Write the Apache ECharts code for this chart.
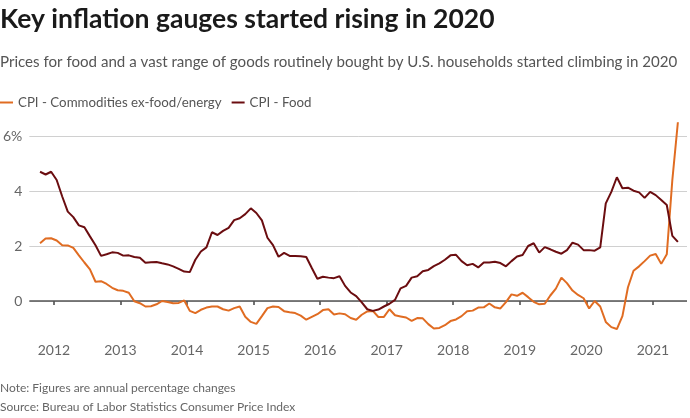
<!DOCTYPE html>
<html>
<head>
<meta charset="utf-8">
<script src="https://cdn.jsdelivr.net/npm/echarts@6/dist/echarts.min.js"></script>
<style>
html,body{margin:0;padding:0;background:#fff;}
#chart{width:690px;height:418px;}
</style>
</head>
<body>
<div id="chart"></div>
<script>
var months = [
  '2011-10','2011-11','2011-12',
  '2012-01','2012-02','2012-03','2012-04','2012-05','2012-06','2012-07','2012-08','2012-09','2012-10','2012-11','2012-12',
  '2013-01','2013-02','2013-03','2013-04','2013-05','2013-06','2013-07','2013-08','2013-09','2013-10','2013-11','2013-12',
  '2014-01','2014-02','2014-03','2014-04','2014-05','2014-06','2014-07','2014-08','2014-09','2014-10','2014-11','2014-12',
  '2015-01','2015-02','2015-03','2015-04','2015-05','2015-06','2015-07','2015-08','2015-09','2015-10','2015-11','2015-12',
  '2016-01','2016-02','2016-03','2016-04','2016-05','2016-06','2016-07','2016-08','2016-09','2016-10','2016-11','2016-12',
  '2017-01','2017-02','2017-03','2017-04','2017-05','2017-06','2017-07','2017-08','2017-09','2017-10','2017-11','2017-12',
  '2018-01','2018-02','2018-03','2018-04','2018-05','2018-06','2018-07','2018-08','2018-09','2018-10','2018-11','2018-12',
  '2019-01','2019-02','2019-03','2019-04','2019-05','2019-06','2019-07','2019-08','2019-09','2019-10','2019-11','2019-12',
  '2020-01','2020-02','2020-03','2020-04','2020-05','2020-06','2020-07','2020-08','2020-09','2020-10','2020-11','2020-12',
  '2021-01','2021-02','2021-03','2021-04','2021-05'
];

var commodities = [
  2.1, 2.27, 2.28,
  2.2, 2.03, 2.02, 1.93, 1.66, 1.4, 1.15, 0.7, 0.72, 0.62, 0.48, 0.39,
  0.37, 0.3, -0.01, -0.08, -0.2, -0.19, -0.12, 0.0, -0.04, -0.08, -0.07, 0.02,
  -0.36, -0.44, -0.32, -0.24, -0.2, -0.2, -0.3, -0.35, -0.26, -0.2, -0.57, -0.76,
  -0.83, -0.55, -0.26, -0.2, -0.22, -0.37, -0.41, -0.44, -0.53, -0.68, -0.58, -0.48,
  -0.33, -0.3, -0.49, -0.45, -0.48, -0.62, -0.68, -0.5, -0.38, -0.36, -0.58, -0.58,
  -0.3, -0.52, -0.56, -0.6, -0.72, -0.62, -0.63, -0.84, -1.0, -0.98, -0.88, -0.73,
  -0.67, -0.55, -0.37, -0.35, -0.24, -0.23, -0.09, -0.23, -0.27, -0.04, 0.24, 0.19,
  0.3, 0.14, -0.03, -0.12, -0.1, 0.2, 0.45, 0.85, 0.65, 0.38, 0.22, 0.1,
  -0.27, 0.0, -0.2, -0.76, -0.95, -1.02, -0.55, 0.5, 1.1, 1.26, 1.45, 1.65,
  1.71, 1.35, 1.7, 4.4, 6.5
];

var food = [
  4.7, 4.6, 4.7,
  4.4, 3.8, 3.25, 3.05, 2.75, 2.68, 2.35, 2.03, 1.64, 1.7, 1.77, 1.75,
  1.65, 1.66, 1.6, 1.57, 1.39, 1.41, 1.42, 1.37, 1.33, 1.26, 1.17, 1.07,
  1.05, 1.5, 1.8, 1.95, 2.5, 2.4, 2.55, 2.66, 2.94, 3.01, 3.16, 3.37,
  3.2, 2.93, 2.3, 2.03, 1.61, 1.75, 1.64, 1.64, 1.63, 1.6, 1.2, 0.81,
  0.88, 0.85, 0.83, 0.9, 0.55, 0.31, 0.18, -0.05, -0.3, -0.36, -0.31, -0.2,
  -0.1, 0.04, 0.46, 0.55, 0.85, 0.9, 1.08, 1.13, 1.27, 1.37, 1.5, 1.66,
  1.68, 1.45, 1.3, 1.35, 1.22, 1.4, 1.4, 1.43, 1.38, 1.26, 1.45, 1.62,
  1.67, 2.0, 2.1, 1.76, 1.96, 1.88, 1.79, 1.72, 1.85, 2.12, 2.05, 1.85,
  1.85, 1.83, 1.95, 3.55, 3.97, 4.5, 4.1, 4.12, 4.01, 3.95, 3.75, 3.97,
  3.85, 3.67, 3.49, 2.37, 2.15
];

var yearTicks = [2012, 2013, 2014, 2015, 2016, 2017, 2018, 2019, 2020, 2021];
var yTicks = [0, 2, 4, 6];
var seriesNames = ['CPI - Commodities ex-food/energy', 'CPI - Food'];

function monthToYear(s) {
  var p = s.split('-');
  return +p[0] + (+p[1] - 0.5) / 12;
}
function pairs(vals) {
  return vals.map(function (v, i) { return [monthToYear(months[i]), v]; });
}

var FONT = 'Lato';
var chart = echarts.init(document.getElementById('chart'), null, { renderer: 'canvas' });
chart.setOption({
  animation: false,
  backgroundColor: '#fff',
  textStyle: { fontFamily: FONT },
  title: [
    { text: 'Key inflation gauges started rising in 2020', left: 0, top: 6, padding: 0,
      textStyle: { fontFamily: FONT, fontWeight: 'bold', fontSize: 26.5, color: '#1a1a1a' } },
    { text: 'Prices for food and a vast range of goods routinely bought by U.S. households started climbing in 2020', left: 0, top: 55, padding: 0,
      textStyle: { fontFamily: FONT, fontWeight: 'normal', fontSize: 15.1, color: '#555' } },
    { text: 'Note: Figures are annual percentage changes', left: 0, top: 382, padding: 0,
      textStyle: { fontFamily: FONT, fontWeight: 'normal', fontSize: 12, color: '#666' } },
    { text: 'Source: Bureau of Labor Statistics Consumer Price Index', left: 0, top: 401, padding: 0,
      textStyle: { fontFamily: FONT, fontWeight: 'normal', fontSize: 12, color: '#666' } }
  ],
  legend: {
    left: 0, top: 96, padding: 0,
    icon: 'rect', itemWidth: 13, itemHeight: 2, itemGap: 10,
    textStyle: { fontFamily: FONT, fontSize: 13.3, color: '#555' },
    data: seriesNames
  },
  grid: { left: 25, right: 3, top: 119.5, bottom: 86.75, containLabel: false },
  xAxis: {
    type: 'value', min: 2011.631, max: 2021.512,
    axisLine: { show: false },
    axisTick: { show: true, length: 4, customValues: yearTicks, lineStyle: { color: '#444', width: 1.5 } },
    axisLabel: { customValues: yearTicks, margin: 12, fontFamily: FONT, fontSize: 14, color: '#666',
      formatter: function (v) { return String(v); } },
    splitLine: { show: false }
  },
  yAxis: {
    type: 'value', min: -1.1, max: 6.6,
    axisLine: { show: false },
    axisTick: { show: false, customValues: yTicks },
    axisLabel: { customValues: yTicks, margin: 7, fontFamily: FONT, fontSize: 14, color: '#666',
      formatter: function (v) { return v === 6 ? '6%' : String(v); } },
    splitLine: { show: true, lineStyle: { color: '#d0d0d0', width: 1 } }
  },
  series: [
    {
      name: seriesNames[0], type: 'line', data: pairs(commodities), showSymbol: false,
      lineStyle: { color: '#e06c22', width: 2 }, itemStyle: { color: '#e06c22' }, z: 3,
      markLine: { silent: true, symbol: ['none', 'none'], label: { show: false },
        lineStyle: { color: '#555', width: 1.5, type: 'solid' }, data: [{ yAxis: 0 }], z: 1 }
    },
    {
      name: seriesNames[1], type: 'line', data: pairs(food), showSymbol: false,
      lineStyle: { color: '#6b0d10', width: 2 }, itemStyle: { color: '#6b0d10' }, z: 4
    }
  ]
});
</script>
</body>
</html>
